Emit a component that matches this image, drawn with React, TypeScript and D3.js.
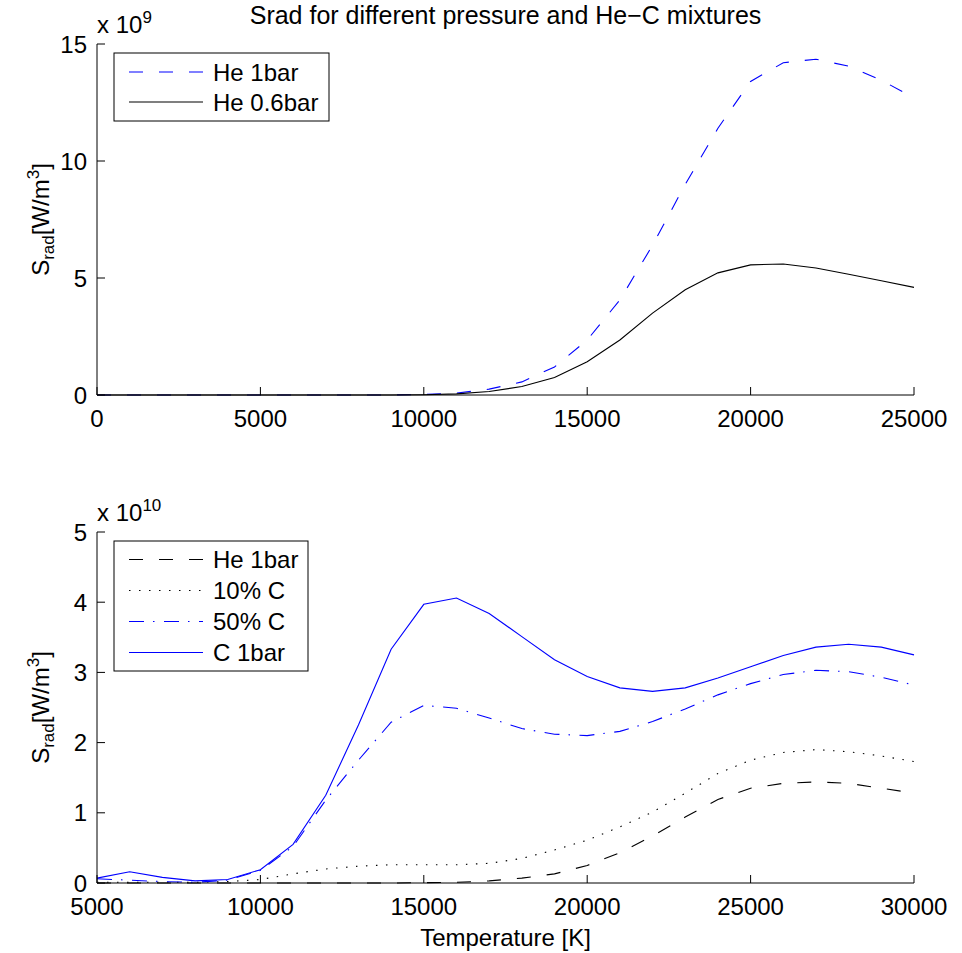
import React from 'react';
import * as d3 from 'd3';

// ---------- data ----------
const topTemps = [0, 1000, 2000, 3000, 4000, 5000, 6000, 7000, 8000, 9000, 10000, 11000, 12000, 13000, 14000, 15000, 16000, 17000, 18000, 19000, 20000, 21000, 22000, 23000, 24000, 25000];
const topHe1bar = [0, 0, 0, 0, 0, 0, 0, 0, 0, 0, 0.02, 0.08, 0.25, 0.56, 1.2, 2.35, 4.06, 6.4, 9.0, 11.4, 13.4, 14.2, 14.35, 14.05, 13.45, 12.7];
const topHe06bar = [0, 0, 0, 0, 0, 0, 0, 0, 0, 0, 0.01, 0.05, 0.15, 0.36, 0.75, 1.42, 2.35, 3.5, 4.5, 5.22, 5.56, 5.6, 5.43, 5.16, 4.88, 4.6];

const bottomTemps = [5000, 6000, 7000, 8000, 9000, 10000, 11000, 12000, 13000, 14000, 15000, 16000, 17000, 18000, 19000, 20000, 21000, 22000, 23000, 24000, 25000, 26000, 27000, 28000, 29000, 30000];
const bottomHe1bar = [0, 0, 0, 0, 0, 0, 0, 0, 0, 0, 0.005, 0.01, 0.03, 0.07, 0.13, 0.25, 0.43, 0.67, 0.94, 1.19, 1.35, 1.42, 1.44, 1.42, 1.35, 1.28];
const bottomC10 = [0.01, 0.01, 0.01, 0.01, 0.02, 0.05, 0.13, 0.2, 0.24, 0.26, 0.26, 0.26, 0.28, 0.35, 0.47, 0.61, 0.8, 1.01, 1.28, 1.56, 1.75, 1.86, 1.9, 1.87, 1.81, 1.73];
const bottomC50 = [0.06, 0.04, 0.02, 0.01, 0.04, 0.18, 0.52, 1.18, 1.75, 2.29, 2.53, 2.49, 2.35, 2.2, 2.12, 2.1, 2.16, 2.3, 2.48, 2.68, 2.84, 2.97, 3.03, 3.01, 2.93, 2.82];
const bottomC1bar = [0.07, 0.16, 0.08, 0.03, 0.05, 0.19, 0.55, 1.25, 2.25, 3.33, 3.97, 4.06, 3.84, 3.51, 3.18, 2.94, 2.78, 2.73, 2.78, 2.92, 3.08, 3.24, 3.36, 3.4, 3.36, 3.25];

const topXTicks = [0, 5000, 10000, 15000, 20000, 25000];
const topYTicks = [0, 5, 10, 15];
const bottomXTicks = [5000, 10000, 15000, 20000, 25000, 30000];
const bottomYTicks = [0, 1, 2, 3, 4, 5];

const titleText = 'Srad for different pressure and He\u2212C mixtures';
const xLabelText = 'Temperature [K]';

// ---------- styles ----------
const FONT = "'Liberation Sans', Arial, Helvetica, sans-serif";
const BLUE = '#0000ff';
const BLACK = '#000000';
const DASH = '14 16';
const DOT = '1.5 8.5';
const DASHDOT = '15 9 1.5 9.5';

const LEFT = 97;
const RIGHT = 914;

type Series = { temps: number[]; values: number[]; color: string; dash?: string; label: string };

type PanelProps = {
  top: number;
  bottom: number;
  xDomain: [number, number];
  yDomain: [number, number];
  xTicks: number[];
  yTicks: number[];
  series: Series[];
  exponent: string;
  legend: { x0: number; x1: number; y0: number; rowStart: number; rowGap: number };
};

function Panel({ top, bottom, xDomain, yDomain, xTicks, yTicks, series, exponent, legend }: PanelProps) {
  const x = d3.scaleLinear().domain(xDomain).range([LEFT, RIGHT]);
  const y = d3.scaleLinear().domain(yDomain).range([bottom, top]);
  const mid = (top + bottom) / 2;
  const legendBottom = legend.rowStart + legend.rowGap * (series.length - 1) + (legend.rowStart - legend.y0);
  return (
    <g>
      {series.map((s, i) => {
        const line = d3
          .line<number>()
          .x((_, j) => x(s.temps[j]))
          .y((v) => y(v));
        return (
          <path
            key={i}
            d={line(s.values) || ''}
            fill="none"
            stroke={s.color}
            strokeWidth={1.1}
            strokeDasharray={s.dash}
          />
        );
      })}
      {/* axes */}
      <line x1={LEFT} x2={RIGHT} y1={bottom} y2={bottom} stroke={BLACK} strokeWidth={1} />
      <line x1={LEFT} x2={LEFT} y1={top} y2={bottom} stroke={BLACK} strokeWidth={1} />
      {xTicks.map((t) => (
        <g key={'x' + t}>
          <line x1={x(t)} x2={x(t)} y1={bottom} y2={bottom - 8} stroke={BLACK} strokeWidth={1} />
          <text x={x(t)} y={bottom + 32} textAnchor="middle" fontFamily={FONT} fontSize={24}>
            {t}
          </text>
        </g>
      ))}
      {yTicks.map((t) => (
        <g key={'y' + t}>
          <line x1={LEFT} x2={LEFT + 8} y1={y(t)} y2={y(t)} stroke={BLACK} strokeWidth={1} />
          <text x={LEFT - 10} y={y(t)} dy="0.36em" textAnchor="end" fontFamily={FONT} fontSize={24}>
            {t}
          </text>
        </g>
      ))}
      {/* exponent */}
      <text x={LEFT} y={top - 11} fontFamily={FONT} fontSize={24}>
        x 10
        <tspan dy={-10} fontSize={17}>
          {exponent}
        </tspan>
      </text>
      {/* y label */}
      <text transform={`translate(49, ${mid}) rotate(-90)`} textAnchor="middle" fontFamily={FONT} fontSize={24}>
        S
        <tspan dy={5} fontSize={17}>
          rad
        </tspan>
        <tspan dy={-5}>[W/m</tspan>
        <tspan dy={-10} fontSize={17}>
          3
        </tspan>
        <tspan dy={10}>]</tspan>
      </text>
      {/* legend */}
      <rect
        x={legend.x0}
        y={legend.y0}
        width={legend.x1 - legend.x0}
        height={legendBottom - legend.y0}
        fill="#ffffff"
        stroke={BLACK}
        strokeWidth={1}
      />
      {series.map((s, i) => {
        const ly = legend.rowStart + i * legend.rowGap;
        return (
          <g key={'l' + i}>
            <line x1={129} x2={203} y1={ly} y2={ly} stroke={s.color} strokeWidth={1.1} strokeDasharray={s.dash} />
            <text x={213} y={ly} dy="0.36em" fontFamily={FONT} fontSize={24}>
              {s.label}
            </text>
          </g>
        );
      })}
    </g>
  );
}

export default function App() {
  const topSeries: Series[] = [
    { temps: topTemps, values: topHe1bar, color: BLUE, dash: DASH, label: 'He 1bar' },
    { temps: topTemps, values: topHe06bar, color: BLACK, label: 'He 0.6bar' },
  ];
  const bottomSeries: Series[] = [
    { temps: bottomTemps, values: bottomHe1bar, color: BLACK, dash: DASH, label: 'He 1bar' },
    { temps: bottomTemps, values: bottomC10, color: BLACK, dash: DOT, label: '10% C' },
    { temps: bottomTemps, values: bottomC50, color: BLUE, dash: DASHDOT, label: '50% C' },
    { temps: bottomTemps, values: bottomC1bar, color: BLUE, label: 'C 1bar' },
  ];
  return (
    <svg
      width={962}
      height={953}
      viewBox="0 0 962 953"
      style={{ position: 'absolute', left: 0, top: 0, background: '#ffffff' }}
    >
      <rect x={0} y={0} width={962} height={953} fill="#ffffff" />
      <text x={(LEFT + RIGHT) / 2} y={24} textAnchor="middle" fontFamily={FONT} fontSize={25}>
        {titleText}
      </text>
      <Panel
        top={44}
        bottom={395}
        xDomain={[0, 25000]}
        yDomain={[0, 15]}
        xTicks={topXTicks}
        yTicks={topYTicks}
        series={topSeries}
        exponent="9"
        legend={{ x0: 114, x1: 329, y0: 53, rowStart: 72, rowGap: 30 }}
      />
      <Panel
        top={532}
        bottom={883}
        xDomain={[5000, 30000]}
        yDomain={[0, 5]}
        xTicks={bottomXTicks}
        yTicks={bottomYTicks}
        series={bottomSeries}
        exponent="10"
        legend={{ x0: 114, x1: 308, y0: 541, rowStart: 559.5, rowGap: 31 }}
      />
      <text x={(LEFT + RIGHT) / 2} y={946} textAnchor="middle" fontFamily={FONT} fontSize={24}>
        {xLabelText}
      </text>
    </svg>
  );
}
